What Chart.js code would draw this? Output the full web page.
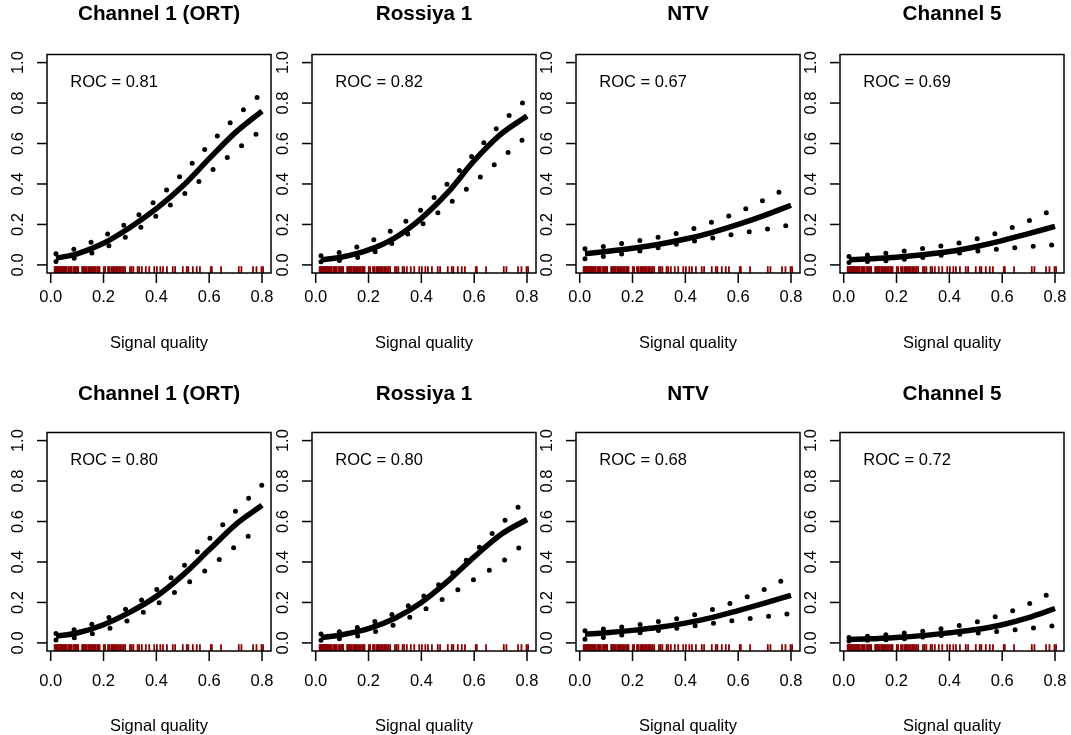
<!DOCTYPE html>
<html>
<head>
<meta charset="utf-8">
<script src="https://cdn.jsdelivr.net/npm/chart.js@4"></script>
<style>
  body { margin: 0; background: #fff; width: 1071px; height: 735px; overflow: hidden; position: relative; }
  .panel { position: absolute; }
</style>
</head>
<body>
<script>
var gridX = [0.02, 0.1, 0.2, 0.3, 0.4, 0.5, 0.6, 0.7, 0.8];

var titles = ['Channel 1 (ORT)', 'Rossiya 1', 'NTV', 'Channel 5',
              'Channel 1 (ORT)', 'Rossiya 1', 'NTV', 'Channel 5'];
var rocLabels = ['ROC = 0.81', 'ROC = 0.82', 'ROC = 0.67', 'ROC = 0.69',
                 'ROC = 0.80', 'ROC = 0.80', 'ROC = 0.68', 'ROC = 0.72'];

// top row
var ortFitA   = [0.033, 0.055, 0.107, 0.185, 0.278, 0.39, 0.525, 0.655, 0.76];
var ortHiA    = [0.055, 0.083, 0.142, 0.215, 0.322, 0.452, 0.594, 0.73, 0.85];
var ortLoA    = [0.017, 0.036, 0.082, 0.15, 0.243, 0.345, 0.456, 0.565, 0.67];
var rosFitA   = [0.025, 0.039, 0.074, 0.134, 0.23, 0.358, 0.515, 0.645, 0.736];
var rosHiA    = [0.045, 0.065, 0.112, 0.18, 0.274, 0.403, 0.55, 0.696, 0.822];
var rosLoA    = [0.016, 0.023, 0.052, 0.115, 0.197, 0.297, 0.408, 0.523, 0.638];
var ntvFitA   = [0.055, 0.066, 0.082, 0.102, 0.128, 0.16, 0.2, 0.245, 0.295];
var ntvHiA    = [0.08, 0.093, 0.115, 0.137, 0.167, 0.211, 0.26, 0.323, 0.39];
var ntvLoA    = [0.03, 0.043, 0.063, 0.086, 0.11, 0.132, 0.155, 0.175, 0.198];
var ch5FitA   = [0.025, 0.03, 0.038, 0.05, 0.066, 0.09, 0.12, 0.155, 0.19];
var ch5HiA    = [0.042, 0.05, 0.064, 0.081, 0.1, 0.127, 0.166, 0.218, 0.277];
var ch5LoA    = [0.012, 0.017, 0.024, 0.037, 0.052, 0.068, 0.08, 0.091, 0.1];

// bottom row
var ortFitB   = [0.033, 0.049, 0.09, 0.152, 0.23, 0.335, 0.46, 0.585, 0.68];
var ortHiB    = [0.047, 0.069, 0.114, 0.178, 0.262, 0.376, 0.514, 0.651, 0.78];
var ortLoB    = [0.014, 0.028, 0.061, 0.116, 0.19, 0.278, 0.372, 0.478, 0.58];
var rosFitB   = [0.026, 0.04, 0.07, 0.122, 0.2, 0.305, 0.425, 0.535, 0.61];
var rosHiB    = [0.044, 0.058, 0.094, 0.148, 0.224, 0.325, 0.447, 0.584, 0.715];
var rosLoB    = [0.013, 0.022, 0.046, 0.091, 0.157, 0.231, 0.315, 0.395, 0.505];
var ntvFitB   = [0.043, 0.05, 0.062, 0.077, 0.098, 0.125, 0.16, 0.197, 0.235];
var ntvHiB    = [0.06, 0.07, 0.086, 0.106, 0.128, 0.164, 0.21, 0.265, 0.33];
var ntvLoB    = [0.018, 0.028, 0.046, 0.062, 0.078, 0.096, 0.113, 0.129, 0.145];
var ch5FitB   = [0.017, 0.02, 0.027, 0.036, 0.05, 0.066, 0.09, 0.125, 0.17];
var ch5HiB    = [0.027, 0.034, 0.045, 0.058, 0.077, 0.103, 0.14, 0.192, 0.258];
var ch5LoB    = [0.01, 0.013, 0.018, 0.029, 0.039, 0.048, 0.059, 0.071, 0.085];

// signal quality of each observation (rug)
var rugX = [0.015, 0.018, 0.021, 0.024, 0.027, 0.03, 0.033, 0.036, 0.039, 0.042, 0.045, 0.048,
            0.052, 0.055, 0.058, 0.061, 0.068, 0.072, 0.076, 0.08, 0.088, 0.092, 0.096, 0.1, 0.104,
            0.119, 0.123, 0.127, 0.131, 0.136, 0.142, 0.146, 0.151, 0.156, 0.16, 0.165, 0.17,
            0.176, 0.181, 0.185, 0.201, 0.206, 0.217, 0.221,
            0.229, 0.234, 0.238, 0.243, 0.248, 0.253, 0.259, 0.264, 0.27, 0.276, 0.282,
            0.3, 0.306, 0.313, 0.329, 0.335, 0.345, 0.36, 0.373, 0.392, 0.402, 0.415, 0.425, 0.44,
            0.462, 0.471, 0.5, 0.515, 0.521, 0.538, 0.553, 0.565, 0.606, 0.61, 0.645,
            0.712, 0.722, 0.766, 0.779, 0.798, 0.804];

var xTickVals = [0, 0.2, 0.4, 0.6, 0.8];
var xTickLabels = ['0.0', '0.2', '0.4', '0.6', '0.8'];
var yTickVals = [0, 0.2, 0.4, 0.6, 0.8, 1.0];
var yTickLabels = ['0.0', '0.2', '0.4', '0.6', '0.8', '1.0'];

var series = [
  [ortFitA, ortHiA, ortLoA], [rosFitA, rosHiA, rosLoA], [ntvFitA, ntvHiA, ntvLoA], [ch5FitA, ch5HiA, ch5LoA],
  [ortFitB, ortHiB, ortLoB], [rosFitB, rosHiB, rosLoB], [ntvFitB, ntvHiB, ntvLoB], [ch5FitB, ch5HiB, ch5LoB]
];

// page layout
var colLeft = [46.7, 311.5, 576, 840];
var rowTop = [54.5, 432.7];
var titleGap = [40, 38];       // box top -> title centre
var tickLabGap = [24, 30];     // box bottom -> tick label centre
var xLabGap = [70, 75];        // box bottom -> axis title centre
var boxW = 224, boxH = 218.5;
var canW = 273, canH = 370;
var FONT = '"Liberation Sans", Arial, sans-serif';

function pts(arr) {
  return arr.map(function(v, i) { return {x: gridX[i], y: v}; });
}

// R style box, axes, labels and rug
var rStyle = {
  id: 'rStyle',
  afterDatasetsDraw: function(chart) {
    var ctx = chart.ctx, a = chart.chartArea;
    var xs = chart.scales.x;
    ctx.save();
    ctx.strokeStyle = '#8b0000';
    ctx.lineWidth = 1.8;
    rugX.forEach(function(v) {
      var px = xs.getPixelForValue(v);
      ctx.beginPath();
      ctx.moveTo(px, a.bottom);
      ctx.lineTo(px, a.bottom - 6.8);
      ctx.stroke();
    });
    ctx.restore();
  },
  afterDraw: function(chart) {
    var ctx = chart.ctx, a = chart.chartArea;
    var xs = chart.scales.x, ys = chart.scales.y;
    var o = chart.options.plugins.rStyle;
    ctx.save();
    ctx.strokeStyle = '#000';
    ctx.lineWidth = 1.5;
    ctx.strokeRect(a.left, a.top, a.right - a.left, a.bottom - a.top);

    ctx.fillStyle = '#000';
    ctx.font = '16.5px ' + FONT;
    ctx.textAlign = 'center';
    ctx.textBaseline = 'middle';
    xTickVals.forEach(function(v, i) {
      var px = xs.getPixelForValue(v);
      ctx.beginPath();
      ctx.moveTo(px, a.bottom);
      ctx.lineTo(px, a.bottom + 10);
      ctx.stroke();
      ctx.fillText(xTickLabels[i], px, a.bottom + tickLabGap[o.row]);
    });
    yTickVals.forEach(function(v, i) {
      var py = ys.getPixelForValue(v);
      ctx.beginPath();
      ctx.moveTo(a.left, py);
      ctx.lineTo(a.left - 10, py);
      ctx.stroke();
      ctx.save();
      ctx.translate(a.left - 29, py);
      ctx.rotate(-Math.PI / 2);
      ctx.fillText(yTickLabels[i], 0, 0);
      ctx.restore();
    });
    ctx.fillText('Signal quality', (a.left + a.right) / 2, a.bottom + xLabGap[o.row]);
    ctx.fillText(o.roc, xs.getPixelForValue(0.24), ys.getPixelForValue(0.9));

    ctx.font = 'bold 20.7px ' + FONT;
    ctx.fillText(o.title, (a.left + a.right) / 2, a.top - titleGap[o.row]);
    ctx.restore();
  }
};

series.forEach(function(s, k) {
  var col = k % 4, row = Math.floor(k / 4);
  var cv = document.createElement('canvas');
  var wrap = document.createElement('div');
  wrap.className = 'panel';
  wrap.style.left = (colLeft[col] - 47) + 'px';
  wrap.style.top = (rowTop[row] - 54.5) + 'px';
  wrap.style.width = canW + 'px';
  wrap.style.height = canH + 'px';
  wrap.appendChild(cv);
  document.body.appendChild(wrap);

  var dotted = {borderColor: '#000', borderWidth: 5, borderDash: [0, 18.5], borderCapStyle: 'round',
                pointRadius: 0, cubicInterpolationMode: 'monotone', fill: false};
  new Chart(cv, {
    type: 'line',
    data: {
      datasets: [
        Object.assign({label: 'upper', data: pts(s[1])}, dotted),
        Object.assign({label: 'lower', data: pts(s[2])}, dotted),
        {label: 'fit', data: pts(s[0]), borderColor: '#000', borderWidth: 5.5, borderCapStyle: 'butt',
         pointRadius: 0, cubicInterpolationMode: 'monotone', fill: false}
      ]
    },
    options: {
      responsive: true,
      maintainAspectRatio: false,
      animation: false,
      layout: {padding: {left: 47, top: 54.5, right: canW - 47 - boxW, bottom: canH - 54.5 - boxH}},
      scales: {
        x: {type: 'linear', min: -0.014, max: 0.834, display: false},
        y: {type: 'linear', min: -0.04, max: 1.04, display: false}
      },
      plugins: {
        legend: {display: false},
        tooltip: {enabled: false},
        rStyle: {title: titles[k], roc: rocLabels[k], row: row}
      }
    },
    plugins: [rStyle]
  });
});
</script>
</body>
</html>
